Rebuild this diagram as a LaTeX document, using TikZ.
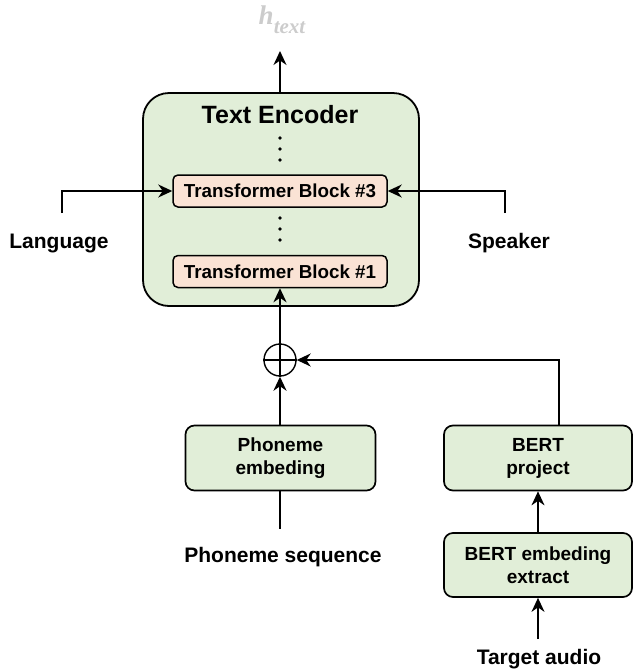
\documentclass[tikz,border=0pt]{standalone}
\usepackage{fontspec}
\setmainfont{Liberation Sans}
\newfontfamily\timesfont{Liberation Serif}
\usepackage{tikz}
\usetikzlibrary{arrows.meta, positioning, shapes}

\definecolor{encgreen}{HTML}{E1EED8}
\definecolor{blockpeach}{HTML}{FAE3D5}
\definecolor{outgray}{HTML}{CCCCCC}

\begin{document}
\begin{tikzpicture}[x=1pt, y=-1pt, node distance=80.5pt, auto,
    encbox/.style={draw, line width=1.8pt, rounded corners=26pt, fill=encgreen,
        minimum width=276pt, minimum height=213pt},
    block/.style={draw, line width=1.5pt, rounded corners=5pt, fill=blockpeach,
        minimum width=214pt, minimum height=32pt,
        font=\fontsize{18.8}{22}\selectfont\bfseries},
    modbox/.style={draw, line width=1.7pt, rounded corners=9pt, fill=encgreen,
        minimum width=190pt, minimum height=65pt, align=center,
        font=\fontsize{19}{23}\selectfont\bfseries},
    lbl/.style={font=\fontsize{21}{24}\selectfont\bfseries},
    conn/.style={line width=1.7pt},
    arr/.style={conn, -{Stealth[length=14pt, width=13pt, inset=4.5pt]}}]
    \useasboundingbox (0,0) rectangle (633,670);

    \node[encbox] (enc) at (281,199.5) {};
    \node[font=\fontsize{25}{28}\selectfont\bfseries] (ttl) at (280,115) {Text Encoder};
    \node[block] (tb3) at (280,191) {Transformer Block \#3};
    \node[block, below of=tb3] (tb1) {Transformer Block \#1};
    \foreach \y in {138,149,160,218,229,240}
        \fill (280,\y) circle (1.8pt);

    \node[text=outgray, font=\timesfont\itshape\bfseries, anchor=base] (htxt) at (282,24)
        {\fontsize{27}{30}\selectfont h\raisebox{-9pt}{\fontsize{21}{24}\selectfont text}};
    \coordinate (out) at (280,51);

    \node[lbl] (lang) at (59,243) {Language};
    \coordinate (langin) at (62,213);
    \node[lbl] (spk) at (509,243) {Speaker};
    \coordinate (spkin) at (505,213);

    \node[draw, circle, line width=1.4pt, minimum size=32pt, inner sep=0pt] (plus) at (280,360) {};
    \node[modbox] (phon) at (280.5,458) {Phoneme\\embeding};
    \node[lbl] (phseq) at (283,557) {Phoneme sequence};
    \coordinate (phend) at (280,529);

    \node[modbox, right of=phon, node distance=257.5pt, minimum width=188pt] (bproj) {BERT\\project};
    \node[modbox, below of=bproj, node distance=107pt, minimum width=188pt, minimum height=64pt] (bext) {BERT embeding\\extract};
    \node[lbl] (tgt) at (539,659) {Target audio};
    \coordinate (tgtin) at (538,639);

    % encoder
    \draw[arr] (enc.north -| tb3) -- (out);
    \draw[arr] (langin) |- (tb3.west);
    \draw[arr] (spkin) |- (tb3.east);

    % inputs
    \draw[line width=1.4pt] (plus.north) -- (plus.south) (plus.west) -- (plus.east);
    \draw[arr, line width=2.6pt] (plus.north) -- (tb1.south);
    \draw[arr, line width=2.6pt] (phon.north -| plus) -- (plus.south);
    \draw[conn] (phon.south -| phend) -- (phend);
    \draw[arr] ([xshift=21pt]bproj.north) |- (plus.east);
    \draw[arr] (bext.north) -- (bproj.south);
    \draw[arr] (tgtin) -- (bext.south);
\end{tikzpicture}
\end{document}
